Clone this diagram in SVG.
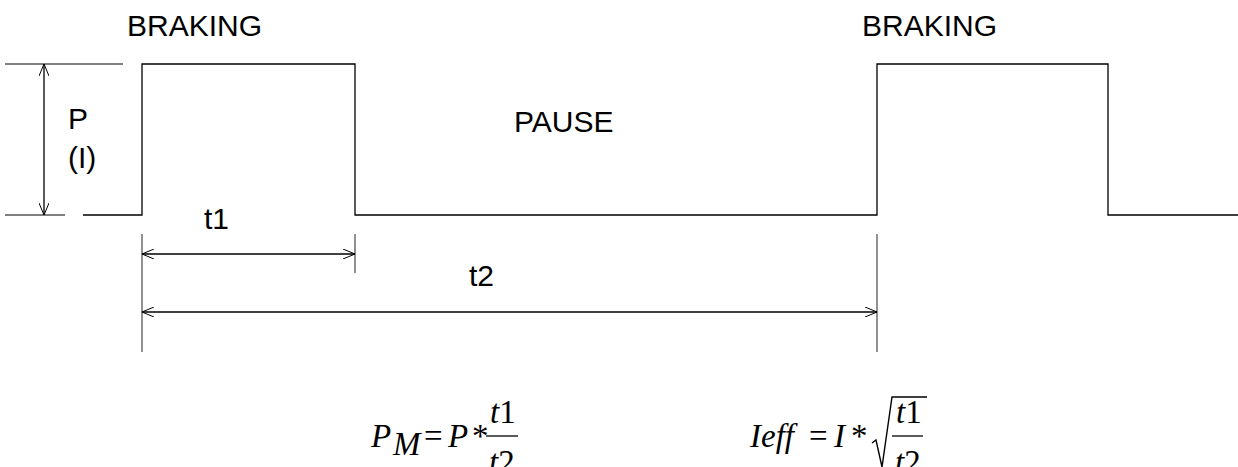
<svg xmlns="http://www.w3.org/2000/svg" width="1238" height="467" viewBox="0 0 1238 467">
<style>
.ln{stroke:#000;stroke-width:1.3;fill:none}
.gl{stroke:#555;stroke-width:1.3;fill:none}
.lbl{font-family:"Liberation Sans",Arial,sans-serif;font-size:30px;fill:#000}
.math{font-family:"Liberation Serif","Times New Roman",serif;font-style:italic;font-size:33px;fill:#000}
.op{font-family:"Liberation Serif","Times New Roman",serif;font-size:33px;fill:#000}
</style>
<defs>
<marker id="ah" viewBox="0 0 12 10" refX="12" refY="5" markerWidth="12" markerHeight="10" markerUnits="userSpaceOnUse" orient="auto-start-reverse">
<path d="M0,0 L12,5 L0,10" fill="none" stroke="#000" stroke-width="1"/>
</marker>
</defs>
<g id="signal">
<polyline class="ln" points="83,215 142,215 142,64 355,64 355,215 877,215 877,64 1108,64 1108,215 1238,215"/>
</g>
<g id="reference-lines">
<line class="gl" x1="5" y1="64" x2="123" y2="64"/>
<line class="gl" x1="5" y1="215" x2="65" y2="215"/>
<line class="gl" x1="142" y1="234" x2="142" y2="352"/>
<line class="gl" x1="355" y1="234" x2="355" y2="273"/>
<line class="gl" x1="877" y1="234" x2="877" y2="352"/>
</g>
<g id="connectors">
<line class="ln" x1="44" y1="64" x2="44" y2="215" marker-start="url(#ah)" marker-end="url(#ah)"/>
<line class="ln" x1="142" y1="254" x2="355" y2="254" marker-start="url(#ah)" marker-end="url(#ah)"/>
<line class="ln" x1="142" y1="312" x2="877" y2="312" marker-start="url(#ah)" marker-end="url(#ah)"/>
</g>
<g id="labels">
<text class="lbl" x="127" y="36">BRAKING</text>
<text class="lbl" x="862" y="36">BRAKING</text>
<text class="lbl" x="68" y="129">P</text>
<text class="lbl" x="68" y="168">(I)</text>
<text class="lbl" x="514" y="132">PAUSE</text>
<text class="lbl" x="204" y="229">t1</text>
<text class="lbl" x="469" y="286">t2</text>
</g>
<g id="formula-pm">
<text class="math" x="371" y="447">P</text>
<text class="math" x="393" y="455" font-size="18">M</text>
<text class="op" x="424" y="447">=</text>
<text class="math" x="448" y="447">P</text>
<text class="op" x="472" y="447">*</text>
<text class="math" x="490" y="423">t<tspan font-style="normal">1</tspan></text>
<line x1="486" y1="436" x2="518" y2="436" stroke="#000" stroke-width="1.3"/>
<text class="math" x="489" y="473">t<tspan font-style="normal">2</tspan></text>
</g>
<g id="formula-ieff">
<text class="math" x="750" y="447">Ieff</text>
<text class="op" x="809" y="447">=</text>
<text class="math" x="834" y="447">I</text>
<text class="op" x="851" y="447">*</text>
<path d="M872,443 L876,440 L882,467 L892,397 L927,397" fill="none" stroke="#000" stroke-width="1.4"/>
<text class="math" x="896" y="423">t<tspan font-style="normal">1</tspan></text>
<line x1="892" y1="436" x2="923" y2="436" stroke="#000" stroke-width="1.3"/>
<text class="math" x="895" y="473">t<tspan font-style="normal">2</tspan></text>
</g>
</svg>
